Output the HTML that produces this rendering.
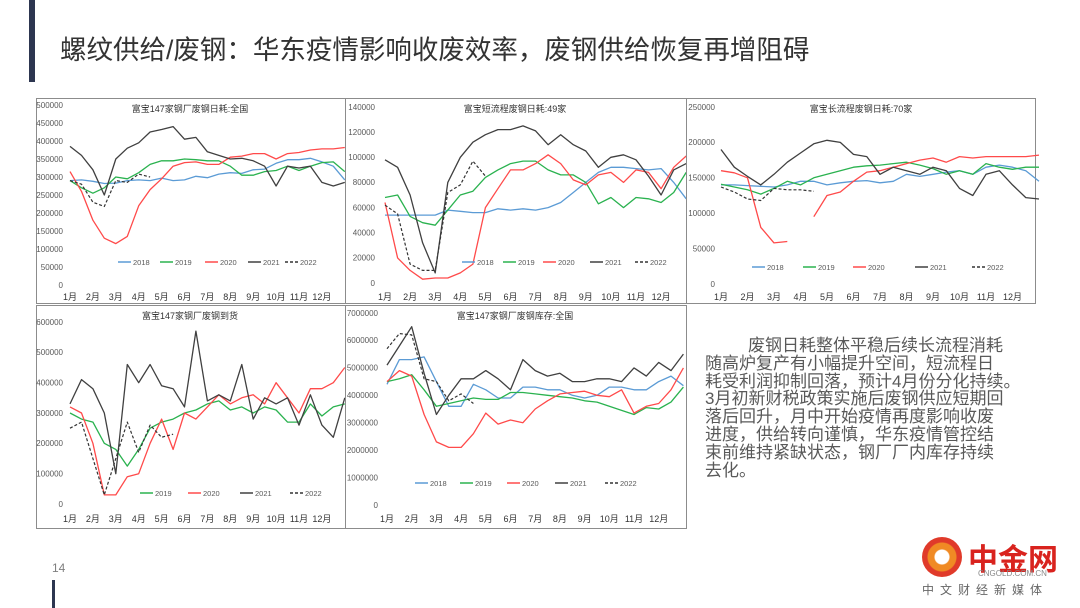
<!DOCTYPE html>
<html><head><meta charset="utf-8">
<style>
html,body{margin:0;padding:0;background:#fff;width:1080px;height:608px;overflow:hidden;font-family:"Liberation Sans","Noto Sans CJK SC",sans-serif;}
#root{position:relative;width:1080px;height:608px;}
.abs{position:absolute;}
</style></head>
<body>
<div id="root">
<div class="abs" style="left:29px;top:0;width:6px;height:82px;background:#2d3650;"></div>
<div class="abs" style="left:60px;top:28px;font-size:26.5px;color:#333;font-family:'Liberation Sans','Noto Sans CJK SC',sans-serif;white-space:nowrap;">螺纹供给/废钢：华东疫情影响收废效率，废钢供给恢复再增阻碍</div>
<div class="abs" style="left:52px;top:561px;font-size:12px;color:#7f7f7f;">14</div>
<div class="abs" style="left:52px;top:580px;width:3px;height:28px;background:#2d3650;"></div>
<div class="abs" style="left:705px;top:337px;width:340px;font-size:17px;line-height:17.8px;color:#595959;white-space:nowrap;">
<span style="padding-left:43px;">废钢日耗整体平稳后续长流程消耗</span><br>随高炉复产有小幅提升空间，短流程日<br>耗受利润抑制回落，预计4月份分化持续。<br>3月初新财税政策实施后废钢供应短期回<br>落后回升，月中开始疫情再度影响收废<br>进度，供给转向谨慎，华东疫情管控结<br>束前维持紧缺状态，钢厂厂内库存持续<br>去化。</div>
<div class="abs" style="left:920px;top:535px;width:150px;height:70px;">
<div class="abs" style="left:2px;top:2px;width:40px;height:40px;border-radius:50%;background:radial-gradient(circle at 50% 50%,#fff 0 7px,#f08a24 8px 14px,#e03a2a 15px);"></div>
<div class="abs" style="left:48px;top:0;font-size:30px;font-weight:bold;color:#d9231e;">中金网</div>
<div class="abs" style="left:58px;top:34px;font-size:8px;color:#888;">CNGOLD.COM.CN</div>
<div class="abs" style="left:2px;top:46px;font-size:12px;color:#666;letter-spacing:6px;">中文财经新媒体</div>
</div>
<svg id="svg" class="abs" style="left:0;top:0" width="1080" height="608"></svg>
</div>
<script>
// ---------- data (values) ----------
var months = ["1月","2月","3月","4月","5月","6月","7月","8月","9月","10月","11月","12月"];
var years = ["2018","2019","2020","2021","2022"];
// chart 1: 富宝147家钢厂废钢日耗:全国 (semi-monthly)
var c1_2018 = [290000,292000,288000,282000,283000,290000,292000,290000,297000,290000,292000,302000,298000,308000,312000,310000,320000,322000,338000,348000,348000,352000,342000,330000,292000];
var c1_2019 = [290000,270000,255000,270000,300000,295000,312000,335000,345000,345000,350000,348000,345000,345000,330000,305000,305000,315000,318000,330000,318000,330000,340000,342000,315000];
var c1_2020 = [315000,260000,180000,130000,115000,135000,220000,265000,295000,330000,340000,342000,335000,335000,355000,358000,365000,365000,350000,365000,368000,375000,378000,378000,382000];
var c1_2021 = [385000,360000,320000,250000,350000,380000,395000,425000,432000,440000,405000,410000,370000,360000,350000,352000,345000,330000,275000,330000,325000,330000,285000,275000,285000];
var c1_2022 = [290000,280000,230000,218000,290000,285000,308000,300000];
// chart 2: 富宝短流程废钢日耗:49家
var c2_2018 = [54000,54000,54000,54000,54000,58000,57000,56000,56000,59000,58000,59000,58000,60000,64000,72000,80000,88000,92000,92000,91000,90000,91000,80000,67000];
var c2_2019 = [68000,70000,53000,48000,46000,58000,70000,73000,84000,90000,95000,97000,97000,90000,86000,86000,80000,63000,68000,60000,68000,67000,64000,72000,88000];
var c2_2020 = [64000,20000,10000,3000,4000,4000,8000,15000,60000,75000,90000,90000,95000,102000,95000,82000,78000,86000,88000,80000,90000,88000,75000,92000,101000];
var c2_2021 = [98000,92000,70000,32000,8000,80000,100000,112000,118000,122000,122000,125000,121000,110000,118000,110000,105000,92000,100000,102000,98000,85000,70000,90000,95000];
var c2_2022 = [62000,55000,15000,10000,10000,72000,78000,97000,85000];
// chart 3: 富宝长流程废钢日耗:70家
var c3_2018 = [140000,140000,139000,138000,137000,140000,145000,145000,140000,143000,145000,146000,143000,145000,155000,152000,155000,158000,160000,155000,165000,168000,165000,160000,145000];
var c3_2019 = [141000,137000,133000,127000,135000,145000,140000,150000,155000,160000,165000,167000,168000,170000,172000,168000,163000,155000,160000,155000,170000,165000,162000,165000,165000];
var c3_2020 = [160000,157000,150000,80000,58000,60000,null,95000,125000,130000,145000,158000,160000,165000,170000,175000,178000,172000,180000,178000,180000,180000,180000,180000,182000];
var c3_2021 = [190000,165000,152000,140000,155000,172000,185000,198000,203000,200000,183000,180000,155000,165000,160000,155000,165000,160000,135000,125000,155000,160000,140000,122000,120000];
var c3_2022 = [137000,130000,120000,118000,135000,133000,133000,131000];
// chart 4: 富宝147家钢厂废钢到货
var c4_2019 = [300000,280000,270000,200000,180000,125000,180000,250000,270000,280000,300000,310000,330000,340000,310000,320000,300000,320000,310000,270000,270000,330000,290000,320000,330000];
var c4_2020 = [320000,300000,200000,30000,30000,90000,100000,200000,280000,180000,300000,280000,320000,360000,330000,350000,360000,330000,400000,350000,300000,380000,380000,400000,450000];
var c4_2021 = [330000,410000,380000,300000,100000,460000,400000,460000,390000,380000,320000,570000,340000,360000,340000,460000,280000,350000,330000,350000,260000,360000,260000,220000,350000];
var c4_2022 = [250000,270000,150000,30000,150000,270000,170000,260000,220000,230000];
// chart 5: 富宝147家钢厂废钢库存:全国
var c5_2018 = [4400000,5300000,5300000,5400000,4500000,3600000,3600000,4400000,4200000,3900000,3900000,4300000,4300000,4200000,4200000,4000000,3900000,4000000,4300000,4300000,4200000,4200000,4500000,4700000,4350000];
var c5_2019 = [4500000,4600000,4750000,4200000,3600000,3700000,3800000,3900000,3850000,3850000,4100000,4100000,4050000,4000000,3950000,3900000,3800000,3750000,3600000,3450000,3300000,3550000,3500000,3750000,4300000];
var c5_2020 = [4500000,4900000,4700000,3300000,2300000,2100000,2100000,2600000,3350000,2950000,3100000,3000000,3500000,3800000,4050000,4100000,4150000,4000000,3950000,4200000,3350000,3600000,3700000,4200000,5000000];
var c5_2021 = [5100000,5800000,6500000,4800000,3300000,4000000,4600000,4600000,4900000,4600000,4200000,5300000,4900000,4700000,4800000,4500000,4500000,4600000,4600000,4500000,5000000,4700000,5200000,4900000,5500000];
var c5_2022 = [5700000,6250000,6200000,4600000,4500000,3800000,4050000,3700000];

// ---------- rendering ----------
var NS = "http://www.w3.org/2000/svg";
var svg = document.getElementById("svg");
var colors = {"2018":"#5b9bd5","2019":"#2ab24f","2020":"#ff4a4a","2021":"#404040","2022":"#333333"};
function mk(tag, attrs, parent){var e=document.createElementNS(NS,tag);for(var k in attrs)e.setAttribute(k,attrs[k]);(parent||svg).appendChild(e);return e;}

function drawChart(cfg){
  var g = mk("g",{});
  
  
  var b = mk("rect",{x:cfg.box[0]+0.5,y:cfg.box[1]+0.5,width:cfg.box[2],height:cfg.box[3],fill:"#fff",stroke:"#8c8c8c","stroke-width":1},g);
  
  
  function ys(v){return cfg.yBot-(v/cfg.yMax)*(cfg.yBot-cfg.yTop);}
  function xs(i){return cfg.x0+i*0.5*cfg.mw;}
  for(var v=0;v<=cfg.yMax+1;v+=cfg.yStep){
    var t=mk("text",{x:cfg.yLabX,y:ys(v)+2.8,"text-anchor":"end","font-size":8,fill:"#595959"},g);
    t.textContent=String(v);
    
    
  }
  for(var m=0;m<months.length;m++){
    var t2=mk("text",{x:cfg.x0+m*cfg.mw,y:cfg.monY,"text-anchor":"middle","font-size":9,fill:"#333"},g);
    t2.textContent=months[m];
    
    
  }
  var tt=mk("text",{x:cfg.titleX,y:cfg.titleY,"text-anchor":"middle","font-size":9,fill:"#333"},g);
  tt.textContent=cfg.title;
  
  
  cfg.series.forEach(function(s){
    var d="",pen=false;
    s.data.forEach(function(v,i){
      if(v===null){pen=false;return;}
      d+=(pen?"L":"M")+xs(i).toFixed(1)+","+ys(v).toFixed(1);pen=true;
    });
    var p=mk("path",{d:d,fill:"none",stroke:colors[s.y],"stroke-width":s.y==="2022"?1.2:1.3,"stroke-dasharray":s.y==="2022"?"3,2":"none","stroke-linejoin":"round"},g);
    
    
  });
  cfg.legend.forEach(function(lx,i){
    var y=cfg.legY, yr=cfg.legYears[i];
    var l=mk("line",{x1:lx,y1:y,x2:lx+13,y2:y,stroke:colors[yr],"stroke-width":1.5,"stroke-dasharray":yr==="2022"?"3,2":"none"},g);
    
    
    var t3=mk("text",{x:lx+15,y:y+2.8,"font-size":7.5,fill:"#595959"},g);
    t3.textContent=yr;
    
    
  });
}

drawChart({name:"chart-daily-consumption-national",title:"富宝147家钢厂废钢日耗:全国",box:[36,98,309,205],yMax:500000,yStep:50000,yTop:105,yBot:285,yLabX:63,x0:70,mw:22.9,monY:300,titleX:190,titleY:112,legY:262,legend:[118,160,205,248,285],legYears:years,
  series:[{y:"2018",data:c1_2018},{y:"2019",data:c1_2019},{y:"2020",data:c1_2020},{y:"2021",data:c1_2021},{y:"2022",data:c1_2022}]});
drawChart({name:"chart-daily-consumption-short-process",title:"富宝短流程废钢日耗:49家",box:[345,98,341,205],yMax:140000,yStep:20000,yTop:107,yBot:283,yLabX:375,x0:385,mw:25.1,monY:300,titleX:515,titleY:112,legY:262,legend:[462,503,543,590,635],legYears:years,
  series:[{y:"2018",data:c2_2018},{y:"2019",data:c2_2019},{y:"2020",data:c2_2020},{y:"2021",data:c2_2021},{y:"2022",data:c2_2022}]});
drawChart({name:"chart-daily-consumption-long-process",title:"富宝长流程废钢日耗:70家",box:[686,98,349,205],yMax:250000,yStep:50000,yTop:107,yBot:284,yLabX:715,x0:721,mw:26.5,monY:300,titleX:861,titleY:112,legY:267,legend:[752,803,853,915,972],legYears:years,
  series:[{y:"2018",data:c3_2018},{y:"2019",data:c3_2019},{y:"2020",data:c3_2020},{y:"2021",data:c3_2021},{y:"2022",data:c3_2022}]});
drawChart({name:"chart-arrivals",title:"富宝147家钢厂废钢到货",box:[36,305,309,223],yMax:600000,yStep:100000,yTop:322,yBot:504,yLabX:63,x0:70,mw:22.9,monY:522,titleX:190,titleY:319,legY:493,legend:[140,188,240,290],legYears:["2019","2020","2021","2022"],
  series:[{y:"2019",data:c4_2019},{y:"2020",data:c4_2020},{y:"2021",data:c4_2021},{y:"2022",data:c4_2022}]});
drawChart({name:"chart-inventory",title:"富宝147家钢厂废钢库存:全国",box:[345,305,341,223],yMax:7000000,yStep:1000000,yTop:313,yBot:505,yLabX:378,x0:387,mw:24.7,monY:522,titleX:515,titleY:319,legY:483,legend:[415,460,507,555,605],legYears:years,
  series:[{y:"2018",data:c5_2018},{y:"2019",data:c5_2019},{y:"2020",data:c5_2020},{y:"2021",data:c5_2021},{y:"2022",data:c5_2022}]});
</script>
</body></html>
